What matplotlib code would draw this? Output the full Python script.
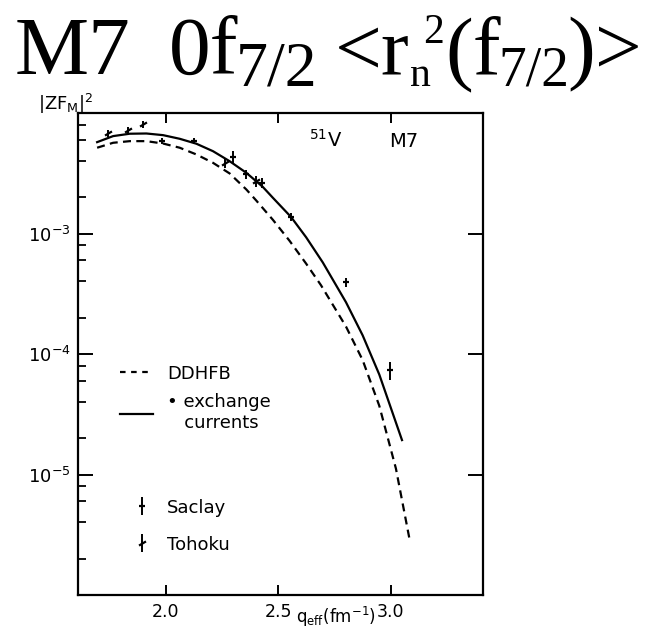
import matplotlib
matplotlib.use("Agg")
import matplotlib.pyplot as plt
from matplotlib.ticker import FixedLocator, LogFormatterMathtext, NullFormatter
from matplotlib.lines import Line2D

# |ZF_M|^2 of the M7 transition in 51V versus effective momentum transfer
q_ddhfb = [1.695, 1.766, 1.840, 1.914, 1.988, 2.062, 2.136, 2.210, 2.284, 2.358,
           2.402, 2.476, 2.550, 2.624, 2.690, 2.801, 2.875, 2.949, 3.023, 3.082]
f_ddhfb = [5.15e-3, 5.66e-3, 5.84e-3, 5.84e-3, 5.58e-3, 5.15e-3, 4.53e-3, 3.86e-3,
           3.15e-3, 2.32e-3, 1.88e-3, 1.30e-3, 8.71e-4, 5.62e-4, 3.72e-4, 1.69e-4,
           8.91e-5, 3.72e-5, 1.12e-5, 3.0e-6]

q_exch = [1.695, 1.766, 1.840, 1.914, 1.988, 2.062, 2.136, 2.210, 2.284, 2.358,
          2.431, 2.476, 2.557, 2.624, 2.698, 2.801, 2.875, 2.949, 3.050]
f_exch = [5.73e-3, 6.43e-3, 6.73e-3, 6.76e-3, 6.55e-3, 6.11e-3, 5.56e-3, 4.82e-3,
          3.98e-3, 3.19e-3, 2.44e-3, 1.98e-3, 1.37e-3, 9.3e-4, 5.75e-4, 2.69e-4,
          1.43e-4, 6.76e-5, 1.93e-5]

q_saclay = [1.985, 2.126, 2.298, 2.355, 2.429, 2.557, 2.801, 2.998]
f_saclay = [5.84e-3, 5.84e-3, 4.33e-3, 3.09e-3, 2.64e-3, 1.37e-3, 3.94e-4, 7.3e-5]
rel_err_saclay = [0.06, 0.06, 0.12, 0.08, 0.10, 0.08, 0.09, 0.17]

q_tohoku = [1.744, 1.833, 1.899, 2.262, 2.402]
f_tohoku = [6.76e-3, 7.21e-3, 8.04e-3, 3.81e-3, 2.72e-3]
rel_err_tohoku = [0.07, 0.07, 0.07, 0.08, 0.10]

x_ticks = [2.0, 2.5, 3.0]
x_tick_labels = ["2.0", "2.5", "3.0"]
y_ticks = [1e-5, 1e-4, 1e-3]

W, H = 650, 630
SANS = "DejaVu Sans"
SERIF = "Liberation Serif"

fig = plt.figure(figsize=(W / 100, H / 100), dpi=100)
ax = fig.add_axes([78 / W, 1 - 595 / H, 405 / W, 482 / H])

ax.plot(q_ddhfb, f_ddhfb, color="black", lw=1.6, ls=(0, (3.6, 2.4)))
ax.plot(q_exch, f_exch, color="black", lw=1.6)

tohoku_marker = [(-1, -0.6), (1, 0.6)]
sac = ax.errorbar(q_saclay, f_saclay,
                  yerr=[f * e for f, e in zip(f_saclay, rel_err_saclay)],
                  fmt="none", ecolor="black", elinewidth=1.4, capsize=0)
sac_marks, = ax.plot(q_saclay, f_saclay, ls="none", marker="_", ms=5, mew=1.6,
                     color="black")
toh = ax.errorbar(q_tohoku, f_tohoku,
                  yerr=[f * e for f, e in zip(f_tohoku, rel_err_tohoku)],
                  fmt="none", ecolor="black", elinewidth=1.4, capsize=0)
toh_marks, = ax.plot(q_tohoku, f_tohoku, ls="none", marker=tohoku_marker, ms=5,
                     mew=1.6, color="black")

ax.set_yscale("log")
ax.set_xlim(1.61, 3.41)
ax.set_ylim(1e-6, 1e-2)

ax.xaxis.set_major_locator(FixedLocator(x_ticks))
ax.set_xticklabels(x_tick_labels)
ax.yaxis.set_major_locator(FixedLocator(y_ticks))
ax.yaxis.set_major_formatter(LogFormatterMathtext())
minor = [m * 10.0 ** e for e in range(-6, -2) for m in (2, 4, 6, 8)]
ax.yaxis.set_minor_locator(FixedLocator(minor))
ax.yaxis.set_minor_formatter(NullFormatter())

ax.tick_params(axis="x", which="major", direction="in", top=True, length=7,
               width=1.4, labelsize=12.5, pad=6)
ax.tick_params(axis="y", which="major", direction="in", right=True, length=11,
               width=1.4, labelsize=13, pad=5)
ax.tick_params(axis="y", which="minor", direction="in", right=False, length=6,
               width=1.3)
for lab in ax.get_xticklabels() + ax.get_yticklabels():
    lab.set_family(SANS)
for sp in ax.spines.values():
    sp.set_linewidth(1.6)

# axis annotations
fig.text(38 / W, 1 - 110 / H, r"|ZF$_{\mathregular{M}}$|$^{\mathregular{2}}$",
         fontsize=13, family=SANS, va="baseline")
fig.text(336 / W, 1 - 623 / H, r"q$_{\mathregular{eff}}$(fm$^{\mathregular{-1}}$)",
         fontsize=12, family=SANS, ha="center", va="baseline")
fig.text(309 / W, 1 - 147 / H, r"$^{\mathregular{51}}$V", fontsize=14,
         family=SANS, va="baseline")
fig.text(389 / W, 1 - 147 / H, "M7", fontsize=14, family=SANS, va="baseline")

# legends
curve_handles = [Line2D([], [], color="black", lw=1.6, ls=(0, (2.5, 2.5))),
                 Line2D([], [], color="black", lw=1.6)]
leg1 = ax.legend(curve_handles, ["DDHFB", "\u2022 exchange\n   currents"],
                 loc="upper left", bbox_to_anchor=(0.104, 0.478), frameon=False,
                 borderpad=0, borderaxespad=0, handlelength=1.8,
                 handletextpad=0.8, labelspacing=0.6,
                 prop={"family": SANS, "size": 13})
ax.add_artist(leg1)
ax.legend([(sac, sac_marks), (toh, toh_marks)], ["Saclay", "Tohoku"],
          loc="upper left", bbox_to_anchor=(0.135, 0.200), frameon=False,
          borderpad=0, borderaxespad=0, handlelength=1.0, handletextpad=0.9,
          labelspacing=1.05, prop={"family": SANS, "size": 13})

# title line with sub/superscripts, set piece by piece
renderer = fig.canvas.get_renderer()
x = 15.0
base = 74.0
pieces = [  # text, size, baseline shift (px), gap before (px)
    ("M7", 60, 0, 0),
    ("0f", 60, 0, 38),
    ("7/2", 46, 11, -2),
    ("<r", 60, 0, 17),
    ("n", 30, 12, 0),
    ("2", 30, -31, -7),
    ("(f", 60, 0, 1),
    ("7/2", 40, 12, -3),
    (")>", 60, 0, -2),
]
for s, size, dy, gap in pieces:
    x += gap
    t = fig.text(x / W, 1 - (base + dy) / H, s, fontsize=size, family=SERIF,
                 va="baseline", ha="left")
    x += t.get_window_extent(renderer).width

fig.savefig("out.png", dpi=100)
